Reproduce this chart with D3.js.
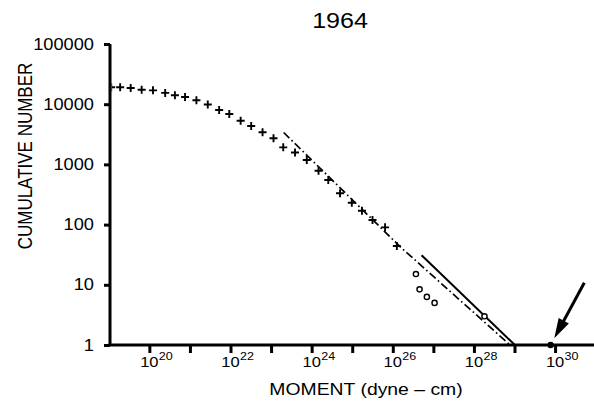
<!DOCTYPE html>
<html><head><meta charset="utf-8">
<script src="https://cdn.jsdelivr.net/npm/d3@7"></script>
<style>
html,body{margin:0;padding:0;background:#fff;}
svg{display:block;font-family:"Liberation Sans",Arial,Helvetica,sans-serif;}
</style></head><body>
<svg id="chart" width="594" height="402"></svg>
<script>
// Labels
const titleText = "1964";
const xTitle = "MOMENT (dyne \u2013 cm)";
const yTitle = "CUMULATIVE NUMBER";

// Axis ticks
const yTickValues = [1, 10, 100, 1000, 10000, 100000];
const xTickExponents = [20, 21, 22, 23, 24, 25, 26, 27, 28, 29, 30];
const xLabelExponents = [20, 22, 24, 26, 28, 30];

// Cumulative number of events vs log10 seismic moment (crosses)
const crossLogM = [19.06, 19.28, 19.54, 19.81, 20.09, 20.39, 20.63, 20.88, 21.16, 21.44,
                   21.72, 21.97, 22.25, 22.51, 22.79, 23.06, 23.30, 23.59, 23.88, 24.17,
                   24.41, 24.70, 24.99, 25.24, 25.50, 25.81, 26.10];
const crossN = [19100, 19100, 18600, 17400, 17000, 15400, 14100, 13200, 11600, 9890,
                8010, 6880, 5320, 4350, 3420, 2720, 1920, 1580, 1180, 786,
                551, 331, 231, 170, 119, 90, 44];

// Largest events (open circles)
const circleLogM = [26.57, 26.66, 26.84, 27.03, 28.26];
const circleN = [15.1, 8.4, 6.3, 5.0, 3.0];

// Single largest event (filled dot) and arrow pointing at it
const dotLogM = [29.89];
const dotN = [1];
const arrowLogM = [30.72, 29.98];
const arrowN = [10.8, 1.29];

// Fitted distributions
const solidLogM = [26.71, 29.01];
const solidN = [31, 1];
const dashLogM = [23.31, 26.18, 28.89];
const dashN = [3390, 43, 1];

const svg = d3.select("#chart");
const SX = 1.14; // horizontal text stretch

const x = d3.scaleLog().domain([Math.pow(10, 19.03), Math.pow(10, 30.91)]).range([110, 592]);
const y = d3.scaleLog().domain([1, 100000]).range([345, 44]);
const X = lm => x(Math.pow(10, lm));

svg.append("defs").append("clipPath").attr("id", "plot")
  .append("rect").attr("x", 111.5).attr("y", 0).attr("width", 490).attr("height", 346);

// Fit lines
const line = d3.line().x(d => X(d[0])).y(d => y(d[1]));
svg.append("path").datum(solidLogM.map((m, i) => [m, solidN[i]]))
  .attr("d", line).attr("fill", "none").attr("stroke", "#000").attr("stroke-width", 2);
svg.append("path").datum(dashLogM.map((m, i) => [m, dashN[i]]))
  .attr("d", line).attr("fill", "none").attr("stroke", "#000").attr("stroke-width", 1.7)
  .attr("stroke-dasharray", "8,3,1.6,3");

// Crosses
svg.append("g").attr("clip-path", "url(#plot)").selectAll("path")
  .data(crossLogM.map((m, i) => [m, crossN[i]]))
  .join("path")
  .attr("transform", d => `translate(${X(d[0])},${y(d[1])})`)
  .attr("d", "M-4,0H4M0,-4V4")
  .attr("stroke", "#000").attr("stroke-width", 1.9).attr("fill", "none");

// Open circles
svg.append("g").selectAll("circle")
  .data(circleLogM.map((m, i) => [m, circleN[i]]))
  .join("circle")
  .attr("cx", d => X(d[0])).attr("cy", d => y(d[1])).attr("r", 2.6)
  .attr("fill", "#fff").attr("stroke", "#000").attr("stroke-width", 1.4);

// Axes
const yAxis = d3.axisLeft(y).tickValues(yTickValues).tickSize(6).tickSizeOuter(0).tickFormat("");
const xAxis = d3.axisBottom(x).tickValues(xTickExponents.map(e => Math.pow(10, e)))
  .tickSize(8).tickSizeOuter(0).tickFormat("");
const gy = svg.append("g").attr("transform", "translate(110,0)").call(yAxis);
const gx = svg.append("g").attr("transform", "translate(0,345)").call(xAxis);
[gy, gx].forEach(g => {
  g.select(".domain").attr("stroke", "#000").attr("stroke-width", 3);
  g.selectAll(".tick line").attr("stroke", "#000").attr("stroke-width", 3);
});
gy.select(".domain").attr("d", "M0,345V44");
gx.select(".domain").attr("d", "M108.5,0H594");

// Filled dot on the axis
svg.append("g").selectAll("circle")
  .data(dotLogM.map((m, i) => [m, dotN[i]]))
  .join("circle")
  .attr("cx", d => X(d[0])).attr("cy", d => y(d[1])).attr("r", 3.2).attr("fill", "#000");

// Arrow
{
  const x0 = X(arrowLogM[0]), y0 = y(arrowN[0]);
  const x1 = X(arrowLogM[1]), y1 = y(arrowN[1]);
  const dx = x1 - x0, dy = y1 - y0, L = Math.hypot(dx, dy);
  const ux = dx / L, uy = dy / L, headLen = 20, headW = 5.8;
  const bx = x1 - ux * headLen, by = y1 - uy * headLen;
  svg.append("line").attr("x1", x0).attr("y1", y0).attr("x2", bx + ux * 2).attr("y2", by + uy * 2)
    .attr("stroke", "#000").attr("stroke-width", 3);
  svg.append("path")
    .attr("d", `M${x1},${y1}L${bx - uy * headW},${by + ux * headW}L${bx + uy * headW},${by - ux * headW}Z`)
    .attr("fill", "#000");
}

// Y tick labels
svg.append("g").selectAll("text").data(yTickValues).join("text")
  .attr("transform", d => `translate(94,${y(d)}) scale(${SX},1)`)
  .attr("text-anchor", "end").attr("dy", "0.35em")
  .attr("font-size", 16).attr("fill", "#000")
  .text(d => d3.format("d")(d));

// X tick labels: 10 with superscript exponent
svg.append("g").selectAll("g").data(xLabelExponents).join("g")
  .attr("transform", e => `translate(${X(e)},366.5) scale(${SX},1)`)
  .each(function (e) {
    const g = d3.select(this);
    const base = g.append("text").attr("text-anchor", "middle").attr("font-size", 14.5)
      .attr("fill", "#000").text("10");
    const w = base.node().getComputedTextLength();
    g.append("text").attr("x", w / 2 + 0.3).attr("y", -6.8).attr("font-size", 11)
      .attr("fill", "#000").text(e);
  });

// Titles
svg.append("text").attr("transform", `translate(340,27.7) scale(${SX},1)`)
  .attr("text-anchor", "middle").attr("font-size", 22).attr("fill", "#000").text(titleText);
svg.append("text").attr("transform", `translate(366,394.5) scale(${SX},1)`)
  .attr("text-anchor", "middle").attr("font-size", 17).attr("fill", "#000").text(xTitle);
svg.append("text").attr("transform", `translate(31.5,156) rotate(-90) scale(1,${SX})`)
  .attr("text-anchor", "middle").attr("font-size", 17).attr("fill", "#000").text(yTitle);
</script>
</body></html>
